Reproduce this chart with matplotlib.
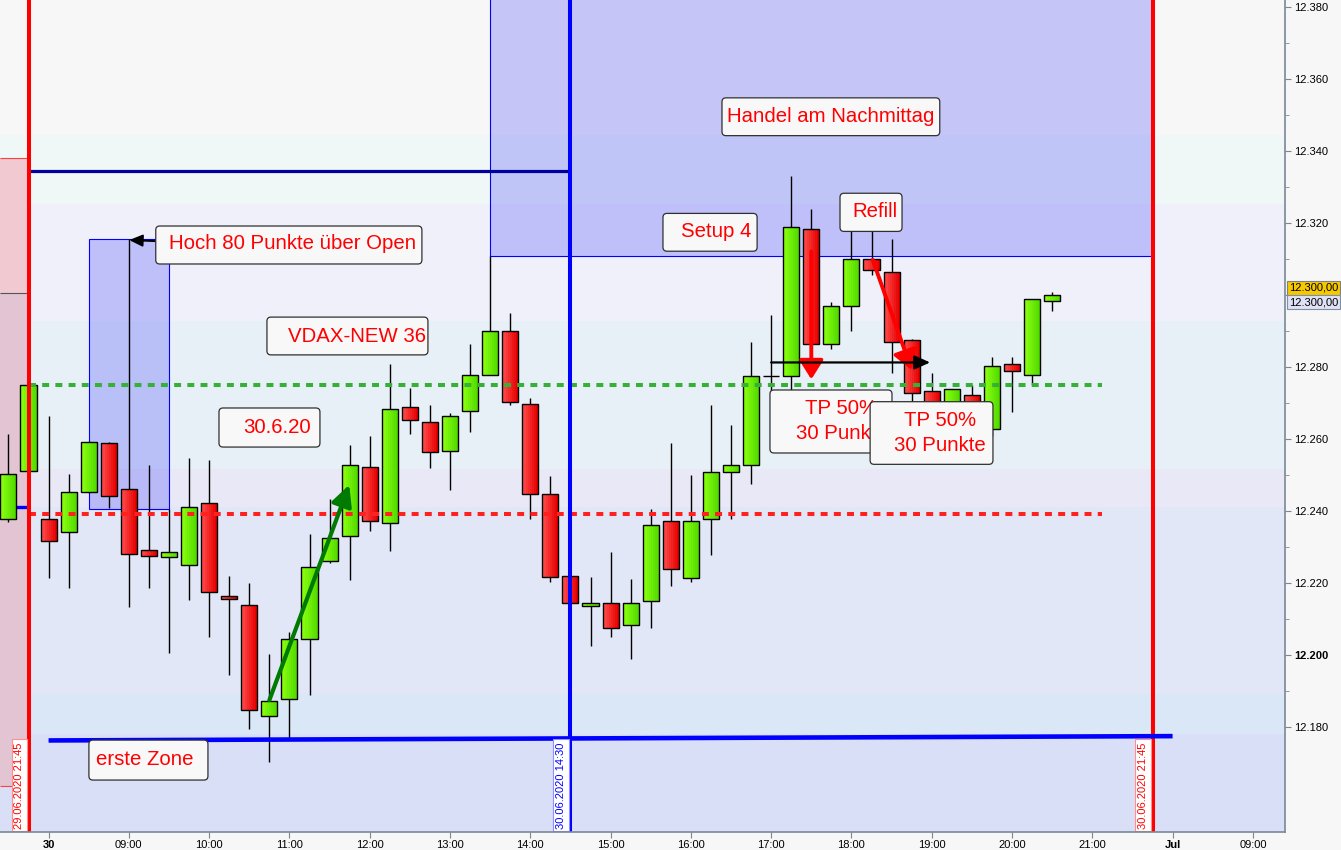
import matplotlib
matplotlib.use('Agg')
import matplotlib.pyplot as plt
from matplotlib.patches import Rectangle, FancyBboxPatch
import matplotlib.transforms as mtransforms
import numpy as np

plt.rcParams['font.family'] = ['Liberation Sans', 'DejaVu Sans']
plt.rcParams['lines.scale_dashes'] = False

# ---------------- data ----------------
times = ['29.06 21:30', '29.06 21:45',
         '08:00', '08:15', '08:30', '08:45', '09:00', '09:15', '09:30', '09:45',
         '10:00', '10:15', '10:30', '10:45', '11:00', '11:15', '11:30', '11:45',
         '12:00', '12:15', '12:30', '12:45', '13:00', '13:15', '13:30', '13:45',
         '14:00', '14:15', '14:30', '14:45', '15:00', '15:15', '15:30', '15:45',
         '16:00', '16:15', '16:30', '16:45', '17:00', '17:15', '17:30', '17:45',
         '18:00', '18:15', '18:30', '18:45', '19:00', '19:15', '19:30', '19:45',
         '20:00', '20:15', '20:30']

opens = [12237.8, 12251.3,
         12238.0, 12234.2, 12245.3, 12258.9, 12246.2, 12229.2, 12227.3, 12225.0,
         12242.3, 12216.4, 12213.9, 12183.1, 12187.8, 12204.5, 12226.2, 12233.1,
         12252.3, 12236.7, 12268.9, 12264.8, 12256.7, 12267.8, 12277.8, 12290.0,
         12269.8, 12244.8, 12222.0, 12213.7, 12214.5, 12208.4, 12215.0, 12237.3,
         12221.6, 12238.0, 12250.9, 12252.8, 12277.5, 12277.6, 12318.4, 12286.5,
         12297.0, 12310.0, 12306.4, 12287.5, 12273.4, 12269.0, 12272.3, 12262.8,
         12280.9, 12277.8, 12298.4]
highs = [12261.5, 12275.5,
         12266.5, 12250.4, 12259.5, 12259.3, 12315.6, 12253.0, 12240.6, 12254.9,
         12254.3, 12222.0, 12220.1, 12200.4, 12206.4, 12233.8, 12243.4, 12258.5,
         12261.0, 12281.0, 12274.4, 12269.6, 12267.3, 12286.5, 12311.0, 12295.1,
         12271.4, 12249.9, 12222.0, 12221.8, 12228.8, 12221.3, 12240.6, 12259.0,
         12250.0, 12269.6, 12264.0, 12287.0, 12294.6, 12333.2, 12324.0, 12298.2,
         12320.0, 12320.0, 12315.7, 12288.0, 12278.4, 12274.0, 12275.2, 12282.8,
         12282.8, 12299.0, 12301.0]
lows = [12237.0, 12251.0,
        12221.5, 12218.8, 12245.0, 12241.0, 12213.6, 12218.8, 12200.8, 12215.4,
        12205.0, 12194.7, 12179.7, 12170.5, 12177.0, 12189.0, 12225.6, 12221.1,
        12234.7, 12229.1, 12261.4, 12252.2, 12246.0, 12262.2, 12277.8, 12269.5,
        12237.8, 12220.5, 12214.5, 12202.5, 12205.0, 12199.0, 12207.5, 12219.4,
        12220.5, 12228.0, 12238.0, 12247.7, 12273.8, 12273.8, 12284.0, 12285.0,
        12290.2, 12305.8, 12278.4, 12270.5, 12266.0, 12267.0, 12266.0, 12261.0,
        12267.7, 12275.0, 12295.6]
closes = [12250.3, 12275.1,
          12231.7, 12245.3, 12259.2, 12244.2, 12228.1, 12227.6, 12228.7, 12241.2,
          12217.5, 12215.6, 12184.8, 12187.3, 12204.6, 12224.5, 12232.6, 12252.8,
          12237.3, 12268.4, 12265.3, 12256.4, 12266.4, 12277.8, 12290.0, 12270.3,
          12244.8, 12221.7, 12214.5, 12214.5, 12207.6, 12214.5, 12236.2, 12224.1,
          12237.3, 12250.9, 12252.8, 12277.6, 12277.5, 12318.9, 12286.5, 12297.0,
          12310.0, 12307.1, 12287.0, 12272.8, 12269.0, 12273.9, 12269.0, 12280.3,
          12279.0, 12298.9, 12300.0]

tick_labels = ['30', '09:00', '10:00', '11:00', '12:00', '13:00', '14:00', '15:00',
               '16:00', '17:00', '18:00', '19:00', '20:00', '21:00', 'Jul', '09:00']
price_ticks = [12180, 12200, 12220, 12240, 12260, 12280, 12300, 12320, 12340, 12360, 12380]

green_level = 12275.0
red_level = 12239.2
navy_level = 12334.6
zone_levels = [12176.4, 12177.6]
prev_range = [12163.75, 12300.7, 12338.2]
prev_blue = 12241.25
big_box_bottom = 12310.9
small_box = [12240.6, 12315.6]
last_price = 12300.0

band_edges = [12140, 12178.2, 12189.3, 12241.3, 12251.8, 12292.9, 12325.4, 12344.6, 12400]
band_colors = ['#d8dff6', '#d9e7f6', '#e1e7f6', '#e8e8f6', '#e8f0f7', '#eff0f9', '#eff8f6', '#f7f7f7']

# ---------------- figure ----------------
W, H = 1341, 850
fig = plt.figure(figsize=(W / 100, H / 100), dpi=100, facecolor='#f7f7f7')
ax = fig.add_axes([0, 18 / H, 1285 / W, 832 / H])
ax.set_facecolor('#f7f7f7')
XMIN, XMAX = -2.42, 61.6
YMIN, YMAX = 12150.97, 12382.08
ax.set_xlim(XMIN, XMAX)
ax.set_ylim(YMIN, YMAX)

# background bands
for i, c in enumerate(band_colors):
    ax.axhspan(band_edges[i], band_edges[i + 1], color=c, lw=0, zorder=0)

# previous day area (left of red line)
ax.add_patch(Rectangle((XMIN, prev_range[1]), -1 - XMIN, prev_range[2] - prev_range[1],
                       facecolor='#f1c9d1', edgecolor='none', zorder=0.5))
ax.add_patch(Rectangle((XMIN, prev_range[0]), -1 - XMIN, prev_range[1] - prev_range[0],
                       facecolor='#e2c4d2', edgecolor='none', zorder=0.5))
ax.hlines([prev_range[0], prev_range[2]], XMIN, -1, colors='#ff4040', lw=0.8, zorder=0.6)
ax.hlines(prev_range[1], XMIN, -1, colors='#555555', lw=0.8, zorder=0.6)
ax.hlines(prev_blue, XMIN, -1, colors='#0000ff', lw=2.4, zorder=3)

# blue boxes
ax.add_patch(Rectangle((22, big_box_bottom), 33, 200, facecolor=(0, 0, 1, 0.2),
                       edgecolor='#0000ff', lw=0.8, zorder=1))
ax.add_patch(Rectangle((2, small_box[0]), 4, small_box[1] - small_box[0],
                       facecolor=(0, 0, 1, 0.2), edgecolor='#0000ff', lw=0.8, zorder=1))

# navy line
ax.hlines(navy_level, -1, 26, colors='#00009a', lw=2.3, zorder=3)

# candles
xs = np.arange(len(opens)) - 2
gcols = [np.array([0x8c, 0xff, 0x10]) / 255, np.array([0x52, 0xdc, 0x00]) / 255]
rcols = [np.array([0xff, 0x4c, 0x4c]) / 255, np.array([0xe6, 0x00, 0x00]) / 255]
NS = 8
bw = 0.8
for x, o, h, l, c in zip(xs, opens, highs, lows, closes):
    ax.vlines(x, l, h, colors='black', lw=1.0, zorder=4)
    lo, hi = min(o, c), max(o, c)
    cols = gcols if c >= o else rcols
    if hi - lo > 0:
        for k in range(NS):
            t = k / (NS - 1)
            col = cols[0] * (1 - t) + cols[1] * t
            ax.add_patch(Rectangle((x - bw / 2 + k * bw / NS, lo), bw / NS, hi - lo,
                                   facecolor=col, edgecolor='none', zorder=5))
    ax.add_patch(Rectangle((x - bw / 2, lo), bw, hi - lo, facecolor='none',
                           edgecolor='black', lw=1.0, zorder=5.5))

# dashed levels
ax.hlines(green_level, -1, 52.5, colors='#36b036', lw=2.9, linestyles=(0, (5, 4.5)), zorder=6)
ax.hlines(red_level, -1, 52.5, colors='#ff2020', lw=2.9, linestyles=(0, (5, 4.5)), zorder=6)

# vertical session lines
ax.axvline(-1, color='#ff0000', lw=2.9, zorder=7)
ax.axvline(55, color='#ff0000', lw=2.9, zorder=7)
ax.axvline(26, color='#0000ff', lw=2.9, zorder=7)

# erste Zone line
ax.plot([0, 56], zone_levels, color='#0000ff', lw=3.3, solid_capstyle='butt', zorder=7)

# arrows
def arrow(p0, p1, color, lw, ms, hl, hw):
    ax.annotate('', xy=p1, xytext=p0,
                arrowprops=dict(arrowstyle=f'-|>,head_length={hl},head_width={hw}',
                                color=color, lw=lw, mutation_scale=ms,
                                shrinkA=0, shrinkB=0),
                zorder=15)

arrow((11.0, 12187.6), (14.98, 12247.4), '#007a00', 3.0, 12.5, 1.0, 0.5)
arrow((38.0, 12312.2), (38.0, 12276.7), '#ff0000', 2.8, 11.5, 1.0, 0.63)
arrow((41.06, 12309.9), (43.0, 12279.3), '#ff0000', 2.8, 11.5, 1.0, 0.63)
arrow((36.0, 12281.4), (43.92, 12281.4), 'black', 1.6, 9.5, 1.0, 0.45)
arrow((5.34, 12315.1), (4.02, 12315.4), 'black', 1.4, 8, 1.0, 0.45)

# text boxes
ASP = 20.07 / 3.6

def tbox(x0, x1, y0, y1, z):
    ax.add_patch(FancyBboxPatch((x0, y0), x1 - x0, y1 - y0,
                                boxstyle='round,pad=0,rounding_size=0.2',
                                mutation_aspect=ASP, facecolor='#f8f8f8',
                                edgecolor='#303030', lw=0.9, zorder=z))

def ttext(x, y, s, z):
    ax.text(x, y, s, ha='center', va='center', color='#ff0000', fontsize=14.7, zorder=z)

tbox(5.34, 18.6, 12308.75, 12319.3, 20); ttext(12.15, 12314.4, 'Hoch 80 Punkte über Open', 21)
tbox(10.88, 18.9, 12283.5, 12294.0, 20); ttext(15.39, 12288.6, 'VDAX-NEW 36', 21)
tbox(8.49, 13.52, 12257.9, 12268.75, 20); ttext(11.4, 12263.4, '30.6.20', 21)
tbox(2.01, 7.94, 12165.4, 12176.5, 20); ttext(4.8, 12171.1, 'erste Zone', 21)
tbox(33.55, 44.4, 12344.4, 12354.9, 20); ttext(38.98, 12349.7, 'Handel am Nachmittag', 21)
tbox(30.61, 35.3, 12312.3, 12322.8, 20); ttext(33.25, 12317.7, 'Setup 4', 21)
tbox(39.43, 42.52, 12317.8, 12328.4, 20); ttext(41.15, 12323.3, 'Refill', 21)
tbox(35.94, 42.02, 12256.25, 12273.75, 22)
ttext(39.5, 12268.6, 'TP 50%', 23); ttext(39.5, 12261.7, '30 Punkte', 23)
tbox(40.93, 47.05, 12253.1, 12270.5, 24)
ttext(44.4, 12265.3, 'TP 50%', 25); ttext(44.4, 12258.4, '30 Punkte', 25)

# vertical date labels
for xv, s, col, ec in [(-1.45, '29.06.2020 21:45', '#ff0000', '#ff9090'),
                       (25.53, '30.06.2020 14:30', '#0000ff', '#9090ff'),
                       (54.53, '30.06.2020 21:45', '#ff0000', '#ff9090')]:
    ax.text(xv, 12151.9, s, rotation=90, ha='center', va='bottom', color=col,
            fontsize=8, zorder=9,
            bbox=dict(boxstyle='square,pad=0.25', facecolor='white', edgecolor=ec, lw=0.8))

# axes styling
for sp in ['top', 'left']:
    ax.spines[sp].set_visible(False)
for sp in ['right', 'bottom']:
    ax.spines[sp].set_color('#7a8896')
    ax.spines[sp].set_linewidth(1.2)
    ax.spines[sp].set_zorder(30)

ax.yaxis.tick_right()
ax.set_yticks(price_ticks)
ax.set_yticklabels(['' if v == last_price else f'{v / 1000:.3f}' for v in price_ticks])
ax.set_yticks(np.array(price_ticks[:-1]) + 10, minor=True)
ax.tick_params(axis='y', which='both', direction='out', colors='#7a8896',
               labelcolor='black', labelsize=8, pad=2.5)
ax.tick_params(axis='y', which='major', length=4)
ax.tick_params(axis='y', which='minor', length=3)
for lab in ax.get_yticklabels():
    if lab.get_text() == '12.200':
        lab.set_fontweight('bold')

ax.set_xticks(np.arange(len(tick_labels)) * 4)
ax.set_xticklabels(tick_labels)
ax.tick_params(axis='x', direction='out', length=4, colors='#7a8896',
               labelcolor='black', labelsize=8, pad=1.5)
for lab in ax.get_xticklabels():
    if lab.get_text() in ('30', 'Jul'):
        lab.set_fontweight('bold')

# last price boxes on the axis
trans = ax.get_yaxis_transform()
ax.text(1289 / 1285, last_price + 2.1, f'{last_price / 1000:.3f},00'.replace('.000', ''),
        transform=trans, ha='left', va='center', fontsize=8, clip_on=False, zorder=40,
        bbox=dict(boxstyle='square,pad=0.18', facecolor='#f6c800', edgecolor='#808080', lw=0.8))
ax.text(1289 / 1285, last_price - 1.9, f'{last_price / 1000:.3f},00',
        transform=trans, ha='left', va='center', fontsize=8, clip_on=False, zorder=40,
        bbox=dict(boxstyle='square,pad=0.18', facecolor='#dfe2f6', edgecolor='#8090a0', lw=0.8))

fig.savefig('out.png', dpi=100, facecolor=fig.get_facecolor())
